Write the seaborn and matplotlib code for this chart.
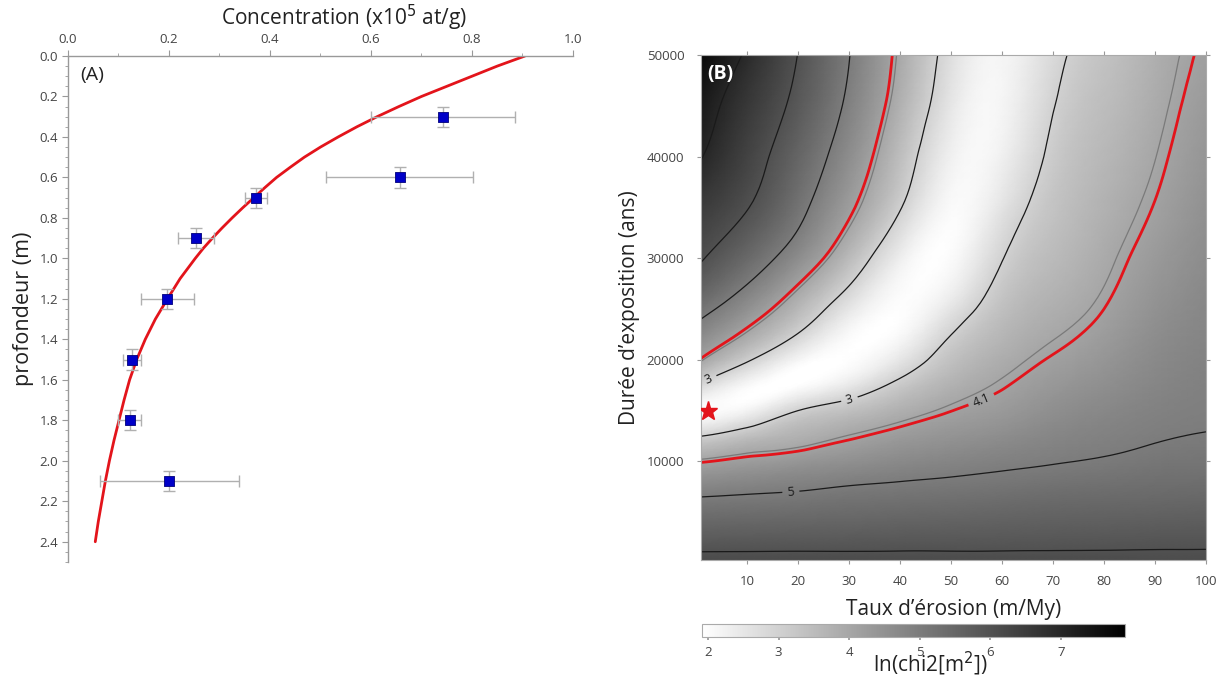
import numpy as np
import pandas as pd
import seaborn as sns
import matplotlib
matplotlib.use('Agg')
import matplotlib.pyplot as plt
from matplotlib.ticker import MultipleLocator, FormatStrFormatter
from matplotlib.tri import Triangulation, UniformTriRefiner

# ---- panel A : profil de concentration ----
depth = [0.3, 0.6, 0.7, 0.9, 1.2, 1.5, 1.8, 2.1]
conc = [0.743, 0.657, 0.372, 0.253, 0.197, 0.127, 0.122, 0.201]
conc_err = [0.143, 0.146, 0.022, 0.036, 0.052, 0.018, 0.022, 0.137]
depth_err = [0.05, 0.05, 0.05, 0.05, 0.05, 0.05, 0.05, 0.05]

model_depth = [0.0, 0.05, 0.1, 0.15, 0.2, 0.25, 0.3, 0.35, 0.4, 0.45, 0.5, 0.55, 0.6,
               0.65, 0.7, 0.75, 0.8, 0.85, 0.9, 0.95, 1.0, 1.1, 1.2, 1.3, 1.4, 1.5,
               1.6, 1.7, 1.8, 1.9, 2.0, 2.1, 2.2, 2.3, 2.4]
model_conc = [0.905, 0.85, 0.80, 0.75, 0.70, 0.655, 0.612, 0.572, 0.535, 0.50, 0.468,
              0.44, 0.413, 0.39, 0.368, 0.346, 0.325, 0.305, 0.286, 0.268, 0.252,
              0.222, 0.197, 0.173, 0.153, 0.136, 0.122, 0.111, 0.101, 0.091, 0.082,
              0.074, 0.067, 0.060, 0.054]

# ---- panel B : ln(chi2) ----
erosion = [1, 10, 20, 30, 40, 50, 60, 70, 80, 90, 100]
exposure = [300, 2500, 5000, 7500, 10000, 12500, 15000, 17500, 20000, 22500, 25000,
            30000, 35000, 40000, 45000, 50000]
ln_chi2 = [
    [6.15, 6.15, 6.15, 6.14, 6.14, 6.13, 6.13, 6.12, 6.12, 6.11, 6.11],
    [5.75, 5.76, 5.77, 5.78, 5.80, 5.81, 5.82, 5.84, 5.85, 5.87, 5.88],
    [5.30, 5.33, 5.36, 5.40, 5.44, 5.47, 5.51, 5.55, 5.57, 5.59, 5.62],
    [4.77, 4.85, 4.92, 5.02, 5.08, 5.13, 5.19, 5.26, 5.30, 5.34, 5.37],
    [4.07, 4.23, 4.38, 4.53, 4.68, 4.79, 4.89, 4.97, 5.04, 5.13, 5.17],
    [2.99, 3.40, 3.74, 4.02, 4.27, 4.44, 4.59, 4.76, 4.87, 4.96, 5.02],
    [1.95, 2.20, 3.00, 3.40, 3.77, 4.09, 4.30, 4.55, 4.72, 4.86, 4.93],
    [2.85, 2.08, 1.95, 2.45, 3.19, 3.73, 4.06, 4.34, 4.55, 4.76, 4.89],
    [4.05, 3.10, 2.15, 1.95, 2.51, 3.37, 3.84, 4.14, 4.39, 4.67, 4.84],
    [4.69, 3.94, 2.97, 2.05, 2.06, 2.99, 3.62, 3.96, 4.24, 4.58, 4.78],
    [5.20, 4.52, 3.59, 2.51, 1.96, 2.55, 3.40, 3.80, 4.10, 4.48, 4.73],
    [6.05, 5.43, 4.60, 3.53, 2.32, 2.02, 2.97, 3.53, 3.90, 4.29, 4.61],
    [6.50, 6.03, 5.21, 4.22, 3.05, 2.05, 2.57, 3.32, 3.74, 4.12, 4.50],
    [7.03, 6.34, 5.53, 4.59, 3.45, 2.27, 2.28, 3.14, 3.60, 3.99, 4.39],
    [7.30, 6.59, 5.81, 4.87, 3.75, 2.51, 2.16, 2.97, 3.47, 3.88, 4.28],
    [7.70, 6.91, 5.99, 5.02, 3.92, 2.69, 2.15, 2.80, 3.35, 3.79, 4.17],
]
best_erosion = 2.4
best_exposure = 15000
cbar_ticks = [2, 3, 4, 5, 6, 7]

sns.set_theme(style='white')
plt.rcParams['font.family'] = ['Open Sans', 'DejaVu Sans']

fig = plt.figure(figsize=(12.23, 6.77), dpi=100)
fig.patch.set_facecolor('white')

# ---------- (A) ----------
axA = fig.add_axes([0.0556, 0.1699, 0.4129, 0.7474])
df_mod = pd.DataFrame({'conc': model_conc, 'depth': model_depth})
sns.lineplot(data=df_mod, x='conc', y='depth', sort=False, estimator=None,
             color='#e3141b', linewidth=2.0, ax=axA)
axA.errorbar(conc, depth, xerr=conc_err, yerr=depth_err, fmt='none',
             ecolor='#b0b0b0', elinewidth=1.0, capsize=4, capthick=1.0, zorder=3)
df_pts = pd.DataFrame({'conc': conc, 'depth': depth})
sns.scatterplot(data=df_pts, x='conc', y='depth', marker='s', s=62, color='#0000c8',
                edgecolor='#00007a', linewidth=0.6, zorder=4, ax=axA)

axA.set_xlim(0, 1.0)
axA.set_ylim(2.5, 0)
axA.xaxis.set_ticks_position('top')
axA.xaxis.set_major_locator(MultipleLocator(0.2))
axA.xaxis.set_minor_locator(MultipleLocator(0.1))
axA.yaxis.set_minor_locator(MultipleLocator(0.05))
axA.set_yticks(np.arange(0, 2.41, 0.2))
axA.xaxis.set_major_formatter(FormatStrFormatter('%.1f'))
axA.yaxis.set_major_formatter(FormatStrFormatter('%.1f'))
axA.tick_params(which='both', direction='out', color='#999999', labelcolor='#444444',
                labelsize=9.5, top=True, bottom=False, left=True, right=False)
axA.tick_params(which='major', length=4, width=0.8, pad=3)
axA.tick_params(which='minor', length=2, width=0.6)
for side in ['bottom', 'right']:
    axA.spines[side].set_visible(False)
for side in ['top', 'left']:
    axA.spines[side].set_color('#999999')
    axA.spines[side].set_linewidth(1.0)
axA.set_xlabel('')
axA.set_ylabel('profondeur (m)', fontsize=15.5, color='#222222', labelpad=4)
fig.text(344 / 1223, 1 - 25 / 677, 'Concentration (x10$^5$ at/g)', fontsize=15,
         color='#222222', ha='center', va='baseline')
axA.text(0.024, 0.962, '(A)', transform=axA.transAxes, fontsize=14, color='#222222',
         va='center', ha='left')

# ---------- (B) ----------
axB = fig.add_axes([0.5732, 0.1728, 0.4129, 0.746])
X, Y = np.meshgrid(erosion, exposure)
Z = np.array(ln_chi2)

# triangulate the grid (in unit coordinates) and let matplotlib smooth it
nr, nc = Z.shape
tris = []
for i in range(nr - 1):
    for j in range(nc - 1):
        a = i * nc + j
        tris.append([a, a + 1, a + nc + 1])
        tris.append([a, a + nc + 1, a + nc])
tri_unit = Triangulation(X.ravel() / 100.0, Y.ravel() / 50000.0, np.array(tris))
tri_fine, z_fine = UniformTriRefiner(tri_unit).refine_field(Z.ravel(), subdiv=3)
tri_plot = Triangulation(tri_fine.x * 100.0, tri_fine.y * 50000.0, tri_fine.triangles)

mesh = axB.tripcolor(tri_plot, z_fine, shading='gouraud', cmap='gray_r',
                     vmin=1.915, vmax=7.91, rasterized=True)
cs_3 = axB.tricontour(tri_plot, z_fine, levels=[3], colors='#1a1a1a', linewidths=0.9)
cs_5 = axB.tricontour(tri_plot, z_fine, levels=[5], colors='#1a1a1a', linewidths=0.9)
cs_67 = axB.tricontour(tri_plot, z_fine, levels=[6, 7], colors='#1a1a1a', linewidths=0.9)
cs_g = axB.tricontour(tri_plot, z_fine, levels=[4.0], colors='#7a7a7a', linewidths=0.9)
cs_r = axB.tricontour(tri_plot, z_fine, levels=[4.1], colors='#e3141b', linewidths=2.0)
axB.clabel(cs_3, manual=[(30, 16300), (2.5, 18100)], fmt='%g', fontsize=9,
           inline=True, colors='#1a1a1a')
axB.clabel(cs_5, manual=[(18.6, 7100)], fmt='%g', fontsize=9, inline=True, colors='#1a1a1a')
axB.clabel(cs_r, manual=[(56, 16000)], fmt='%g', fontsize=9, inline=True, colors='#1a1a1a')
axB.plot([best_erosion], [best_exposure], marker='*', markersize=14, color='#e3141b',
         markeredgecolor='#e3141b', linestyle='none', zorder=5)

axB.set_xlim(1, 100)
axB.set_ylim(300, 50000)
axB.set_xticks([10, 20, 30, 40, 50, 60, 70, 80, 90, 100])
axB.set_yticks([10000, 20000, 30000, 40000, 50000])
axB.tick_params(which='both', direction='out', color='#999999', labelcolor='#444444',
                labelsize=9.5, top=True, right=True, bottom=True, left=True,
                labeltop=False, labelright=False, length=3, width=0.8)
axB.tick_params(axis='x', pad=8)
axB.tick_params(axis='y', pad=9)
for side in axB.spines:
    axB.spines[side].set_color('#aaaaaa')
    axB.spines[side].set_linewidth(0.8)
axB.set_xlabel('Taux d\u2019érosion (m/My)', fontsize=15, color='#222222', labelpad=8)
axB.set_ylabel('Durée d\u2019exposition (ans)', fontsize=15, color='#222222', labelpad=5)
axB.text(0.012, 0.962, '(B)', transform=axB.transAxes, fontsize=14, color='white',
         fontweight='bold', va='center', ha='left')

# colorbar
cax = fig.add_axes([0.574, 0.0598, 0.3459, 0.0185])
cb = fig.colorbar(mesh, cax=cax, orientation='horizontal', ticks=cbar_ticks)
cb.outline.set_edgecolor('#aaaaaa')
cb.outline.set_linewidth(0.8)
cax.tick_params(labelsize=9.5, labelcolor='#444444', color='#999999', length=2, pad=5)
fig.text(930 / 1223, 1 - 664 / 677, 'ln(chi2[m$^2$])', fontsize=15, color='#222222',
         ha='center', va='center')

fig.savefig('out.png', dpi=100, facecolor='white')
